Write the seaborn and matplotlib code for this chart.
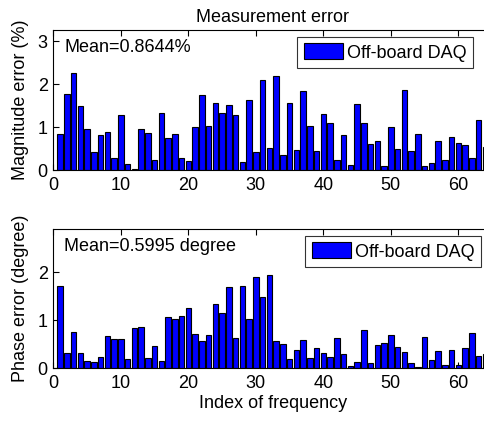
import numpy as np
import matplotlib
matplotlib.use("Agg")
import matplotlib.pyplot as plt
import seaborn as sns

# index of frequency (1..64)
freq_index = np.arange(1, 65)

# magnitude error, percent
mag_error = [
    0.84, 1.77, 2.27, 1.49, 0.96, 0.42, 0.81, 0.88, 0.29, 1.28,
    0.14, 0.02, 0.96, 0.86, 0.23, 1.33, 0.75, 0.84, 0.29, 0.21,
    1.00, 1.74, 1.02, 1.56, 1.33, 1.51, 1.28, 0.19, 1.63, 0.42,
    2.09, 0.52, 2.19, 0.35, 1.56, 0.47, 1.84, 1.02, 0.44, 1.30,
    1.09, 0.23, 0.81, 0.12, 1.53, 1.09, 0.60, 0.67, 0.09, 1.00,
    0.49, 1.86, 0.44, 0.84, 0.09, 0.16, 0.67, 0.23, 0.77, 0.63,
    0.58, 0.28, 1.16, 0.54,
]

# phase error, degree
phase_error = [
    1.71, 0.31, 0.75, 0.31, 0.15, 0.13, 0.24, 0.67, 0.61, 0.61,
    0.19, 0.84, 0.85, 0.22, 0.47, 0.15, 1.07, 1.03, 1.08, 1.25,
    0.71, 0.57, 0.69, 1.33, 1.15, 1.69, 0.63, 1.71, 1.03, 1.90,
    1.48, 1.94, 0.57, 0.50, 0.19, 0.38, 0.58, 0.22, 0.42, 0.32,
    0.24, 0.63, 0.30, 0.05, 0.13, 0.80, 0.11, 0.49, 0.52, 0.69,
    0.44, 0.33, 0.10, 0.03, 0.65, 0.17, 0.35, 0.07, 0.38, 0.07,
    0.42, 0.73, 0.26, 0.29,
]

mag_yticks = [0, 1, 2, 3]
phase_yticks = [0, 1, 2]
x_ticks = [0, 10, 20, 30, 40, 50, 60]

sns.set_style("ticks")
plt.rcParams["font.family"] = ["Liberation Sans", "DejaVu Sans"]
plt.rcParams["text.color"] = "black"
plt.rcParams["axes.labelcolor"] = "black"
FS = 13

W, H = 484, 422
fig = plt.figure(figsize=(W / 100, H / 100), dpi=100)

left = 53.3 / W
width = 65 * 6.75 / W
ax1 = fig.add_axes([left, (H - 170) / H, width, 140 / H])
ax2 = fig.add_axes([left, (H - 368.3) / H, width, 139.3 / H])


def draw_panel(ax, values, ylim, yticks, ylabel, mean_text, text_y, legend_right, legend_top):
    sns.barplot(x=freq_index, y=values, ax=ax, native_scale=True,
                color="#0000ff", saturation=1, edgecolor="black",
                linewidth=0.8, width=0.8, label="Off-board DAQ")
    ax.set_xlim(0, 65)
    ax.set_ylim(*ylim)
    ax.set_xticks(x_ticks)
    ax.set_yticks(yticks)
    ax.tick_params(direction="in", length=4, width=0.8, labelsize=FS,
                   top=True, right=False, colors="black")
    ax.tick_params(axis="x", pad=5)
    ax.tick_params(axis="y", pad=4)
    for s in ax.spines.values():
        s.set_color("black")
        s.set_linewidth(0.8)
    ax.spines["right"].set_visible(False)
    ax.set_ylabel(ylabel, fontsize=FS)
    ax.yaxis.set_label_coords(-0.055, 0.5)
    ax.set_xlabel("")
    fig.text(64 / W, 1 - text_y / H, mean_text, fontsize=FS, va="center", ha="left")
    leg = ax.legend(loc="upper right", bbox_to_anchor=(legend_right / W, 1 - legend_top / H),
                    bbox_transform=fig.transFigure, borderaxespad=0, fontsize=FS,
                    fancybox=False, frameon=True, borderpad=0.35, handletextpad=0.2,
                    handlelength=2.2, handleheight=1.0)
    leg.get_frame().set_edgecolor("black")
    leg.get_frame().set_linewidth(0.8)


draw_panel(ax1, mag_error, (0, 3.26), mag_yticks, "Magnitude error (%)",
           "Mean=0.8644%", 48, 473, 37)
draw_panel(ax2, phase_error, (0, 2.9), phase_yticks, "Phase error (degree)",
           "Mean=0.5995 degree", 246.7, 481, 236)

ax1.set_title("Measurement error", fontsize=FS, pad=6)
ax2.set_xlabel("Index of frequency", fontsize=FS, labelpad=2)

fig.savefig("out.png", dpi=100)
plt.close(fig)
